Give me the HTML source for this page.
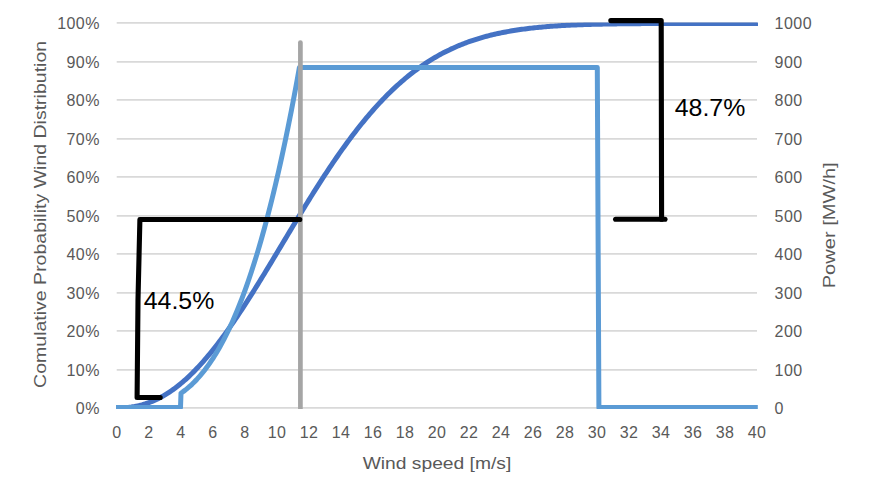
<!DOCTYPE html>
<html><head><meta charset="utf-8">
<style>
html,body{margin:0;padding:0;background:#fff;}
body{width:870px;height:501px;overflow:hidden;font-family:"Liberation Sans",sans-serif;}
svg{display:block;}
svg text{font-family:"Liberation Sans",sans-serif;}
</style></head><body>
<svg width="870" height="501" viewBox="0 0 870 501">
<defs><clipPath id="plot"><rect x="110" y="22.4" width="660" height="386.5"/></clipPath></defs>
<rect width="870" height="501" fill="#ffffff"/>
<g stroke="#d9d9d9" stroke-width="1.6" fill="none"><line x1="116.7" y1="407.90" x2="757.0" y2="407.90"/><line x1="116.7" y1="369.90" x2="757.0" y2="369.90"/><line x1="116.7" y1="330.90" x2="757.0" y2="330.90"/><line x1="116.7" y1="292.90" x2="757.0" y2="292.90"/><line x1="116.7" y1="253.90" x2="757.0" y2="253.90"/><line x1="116.7" y1="215.90" x2="757.0" y2="215.90"/><line x1="116.7" y1="176.90" x2="757.0" y2="176.90"/><line x1="116.7" y1="138.90" x2="757.0" y2="138.90"/><line x1="116.7" y1="99.90" x2="757.0" y2="99.90"/><line x1="116.7" y1="61.90" x2="757.0" y2="61.90"/><line x1="116.7" y1="22.90" x2="757.0" y2="22.90"/></g>
<g clip-path="url(#plot)"><polyline points="117.00,407.90 118.60,407.89 120.20,407.87 121.80,407.83 123.40,407.76 125.00,407.67 126.60,407.55 128.20,407.40 129.80,407.22 131.40,407.02 133.00,406.78 134.60,406.52 136.20,406.22 137.80,405.89 139.40,405.53 141.00,405.13 142.60,404.70 144.20,404.23 145.80,403.73 147.40,403.19 149.00,402.62 150.60,402.01 152.20,401.37 153.80,400.69 155.40,399.97 157.00,399.22 158.60,398.43 160.20,397.60 161.80,396.73 163.40,395.83 165.00,394.89 166.60,393.91 168.20,392.90 169.80,391.85 171.40,390.75 173.00,389.63 174.60,388.46 176.20,387.26 177.80,386.02 179.40,384.74 181.00,383.43 182.60,382.08 184.20,380.69 185.80,379.27 187.40,377.81 189.00,376.32 190.60,374.79 192.20,373.22 193.80,371.62 195.40,369.99 197.00,368.32 198.60,366.62 200.20,364.88 201.80,363.11 203.40,361.31 205.00,359.47 206.60,357.61 208.20,355.71 209.80,353.78 211.40,351.82 213.00,349.83 214.60,347.81 216.20,345.76 217.80,343.69 219.40,341.58 221.00,339.45 222.60,337.29 224.20,335.11 225.80,332.90 227.40,330.67 229.00,328.41 230.60,326.12 232.20,323.82 233.80,321.49 235.40,319.14 237.00,316.77 238.60,314.38 240.20,311.97 241.80,309.54 243.40,307.09 245.00,304.63 246.60,302.15 248.20,299.65 249.80,297.13 251.40,294.60 253.00,292.06 254.60,289.51 256.20,286.94 257.80,284.36 259.40,281.77 261.00,279.16 262.60,276.55 264.20,273.93 265.80,271.30 267.40,268.67 269.00,266.02 270.60,263.38 272.20,260.72 273.80,258.06 275.40,255.40 277.00,252.74 278.60,250.07 280.20,247.40 281.80,244.73 283.40,242.06 285.00,239.39 286.60,236.72 288.20,234.05 289.80,231.39 291.40,228.73 293.00,226.07 294.60,223.42 296.20,220.77 297.80,218.13 299.40,215.50 301.00,212.87 302.60,210.25 304.20,207.64 305.80,205.04 307.40,202.45 309.00,199.86 310.60,197.29 312.20,194.73 313.80,192.18 315.40,189.65 317.00,187.13 318.60,184.62 320.20,182.12 321.80,179.64 323.40,177.17 325.00,174.72 326.60,172.29 328.20,169.87 329.80,167.47 331.40,165.09 333.00,162.72 334.60,160.37 336.20,158.04 337.80,155.73 339.40,153.44 341.00,151.17 342.60,148.92 344.20,146.68 345.80,144.47 347.40,142.28 349.00,140.11 350.60,137.96 352.20,135.84 353.80,133.73 355.40,131.65 357.00,129.59 358.60,127.55 360.20,125.53 361.80,123.54 363.40,121.57 365.00,119.62 366.60,117.70 368.20,115.80 369.80,113.93 371.40,112.07 373.00,110.24 374.60,108.44 376.20,106.66 377.80,104.90 379.40,103.17 381.00,101.46 382.60,99.77 384.20,98.11 385.80,96.47 387.40,94.86 389.00,93.27 390.60,91.71 392.20,90.17 393.80,88.65 395.40,87.16 397.00,85.69 398.60,84.24 400.20,82.82 401.80,81.42 403.40,80.04 405.00,78.69 406.60,77.36 408.20,76.06 409.80,74.78 411.40,73.52 413.00,72.28 414.60,71.06 416.20,69.87 417.80,68.70 419.40,67.55 421.00,66.42 422.60,65.32 424.20,64.24 425.80,63.17 427.40,62.13 429.00,61.11 430.60,60.11 432.20,59.13 433.80,58.17 435.40,57.23 437.00,56.31 438.60,55.41 440.20,54.53 441.80,53.67 443.40,52.82 445.00,52.00 446.60,51.19 448.20,50.40 449.80,49.63 451.40,48.88 453.00,48.15 454.60,47.43 456.20,46.72 457.80,46.04 459.40,45.37 461.00,44.72 462.60,44.08 464.20,43.46 465.80,42.85 467.40,42.26 469.00,41.68 470.60,41.12 472.20,40.57 473.80,40.04 475.40,39.52 477.00,39.01 478.60,38.52 480.20,38.04 481.80,37.57 483.40,37.11 485.00,36.67 486.60,36.24 488.20,35.82 489.80,35.41 491.40,35.02 493.00,34.63 494.60,34.26 496.20,33.89 497.80,33.54 499.40,33.19 501.00,32.86 502.60,32.54 504.20,32.22 505.80,31.92 507.40,31.62 509.00,31.34 510.60,31.06 512.20,30.79 513.80,30.52 515.40,30.27 517.00,30.03 518.60,29.79 520.20,29.56 521.80,29.33 523.40,29.12 525.00,28.91 526.60,28.70 528.20,28.51 529.80,28.32 531.40,28.13 533.00,27.95 534.60,27.78 536.20,27.62 537.80,27.46 539.40,27.30 541.00,27.15 542.60,27.01 544.20,26.87 545.80,26.73 547.40,26.60 549.00,26.47 550.60,26.35 552.20,26.24 553.80,26.12 555.40,26.01 557.00,25.91 558.60,25.81 560.20,25.71 561.80,25.62 563.40,25.52 565.00,25.44 566.60,25.35 568.20,25.27 569.80,25.19 571.40,25.12 573.00,25.05 574.60,24.98 576.20,24.91 577.80,24.85 579.40,24.78 581.00,24.72 582.60,24.67 584.20,24.61 585.80,24.56 587.40,24.51 589.00,24.46 590.60,24.41 592.20,24.37 593.80,24.33 595.40,24.28 597.00,24.25 598.60,24.21 600.20,24.17 601.80,24.14 603.40,24.10 605.00,24.07 606.60,24.04 608.20,24.01 609.80,23.98 611.40,23.95 613.00,23.93 614.60,23.90 616.20,23.88 617.80,23.86 619.40,23.84 621.00,23.82 622.60,23.80 624.20,23.78 625.80,23.76 627.40,23.74 629.00,23.73 630.60,23.71 632.20,23.69 633.80,23.68 635.40,23.67 637.00,23.65 638.60,23.64 640.20,23.63 641.80,23.62 643.40,23.61 645.00,23.60 646.60,23.59 648.20,23.58 649.80,23.57 651.40,23.56 653.00,23.55 654.60,23.54 656.20,23.54 657.80,23.53 659.40,23.52 661.00,23.52 662.60,23.51 664.20,23.50 665.80,23.50 667.40,23.49 669.00,23.49 670.60,23.48 672.20,23.48 673.80,23.48 675.40,23.47 677.00,23.47 678.60,23.46 680.20,23.46 681.80,23.46 683.40,23.45 685.00,23.45 686.60,23.45 688.20,23.45 689.80,23.44 691.40,23.44 693.00,23.44 694.60,23.44 696.20,23.43 697.80,23.43 699.40,23.43 701.00,23.43 702.60,23.43 704.20,23.43 705.80,23.42 707.40,23.42 709.00,23.42 710.60,23.42 712.20,23.42 713.80,23.42 715.40,23.42 717.00,23.42 718.60,23.42 720.20,23.41 721.80,23.41 723.40,23.41 725.00,23.41 726.60,23.41 728.20,23.41 729.80,23.41 731.40,23.41 733.00,23.41 734.60,23.41 736.20,23.41 737.80,23.41 739.40,23.41 741.00,23.41 742.60,23.41 744.20,23.41 745.80,23.41 747.40,23.41 749.00,23.40 750.60,23.40 752.20,23.40 753.80,23.40 755.40,23.40 757.00,23.40 758.00,23.40" fill="none" stroke="#4472c4" stroke-width="5" stroke-linejoin="round" stroke-linecap="butt"/></g>
<g clip-path="url(#plot)"><polyline points="116.00,407.40 180.50,407.40 181.00,393.20 182.60,392.07 184.20,390.88 185.80,389.64 187.40,388.33 189.00,386.97 190.60,385.54 192.20,384.05 193.80,382.49 195.40,380.87 197.00,379.19 198.60,377.43 200.20,375.60 201.80,373.70 203.40,371.73 205.00,369.68 206.60,367.56 208.20,365.36 209.80,363.08 211.40,360.72 213.00,358.28 214.60,355.76 216.20,353.15 217.80,350.46 219.40,347.68 221.00,344.81 222.60,341.86 224.20,338.81 225.80,335.67 227.40,332.43 229.00,329.11 230.60,325.68 232.20,322.16 233.80,318.54 235.40,314.81 237.00,310.99 238.60,307.06 240.20,303.03 241.80,298.89 243.40,294.64 245.00,290.28 246.60,285.82 248.20,281.24 249.80,276.55 251.40,271.74 253.00,266.82 254.60,261.79 256.20,256.63 257.80,251.35 259.40,245.95 261.00,240.43 262.60,234.79 264.20,229.02 265.80,223.12 267.40,217.10 269.00,210.94 270.60,204.66 272.20,198.24 273.80,191.69 275.40,185.00 277.00,178.18 278.60,171.22 280.20,164.12 281.80,156.88 283.40,149.50 285.00,141.97 286.60,134.30 288.20,126.48 289.80,118.52 291.40,110.41 293.00,102.14 294.60,93.73 296.20,85.16 297.80,76.44 299.40,67.56 299.40,67.56 597.30,67.56 598.90,407.40 757.80,407.40" fill="none" stroke="#5b9bd5" stroke-width="5" stroke-linejoin="round" stroke-linecap="butt"/></g>
<g clip-path="url(#plot)"><line x1="300.4" y1="42.5" x2="300.4" y2="409" stroke="#a5a5a5" stroke-width="4.7" stroke-linecap="round"/></g>
<g fill="none" stroke="#000" stroke-width="5.1" stroke-linecap="round" stroke-linejoin="miter">
<polyline points="299.8,219.5 139.9,219.5 138.0,300 137.1,397.5 160.2,397.5" stroke-linejoin="round"/>
<polyline points="610.8,20.6 661.2,20.6 661.6,219.3" stroke-linejoin="round"/>
<polyline points="615.6,219.3 665,219.3"/>
</g>
<g font-size="16" fill="#595959" letter-spacing="0.45"><text x="99.9" y="413.9" text-anchor="end">0%</text><text x="99.9" y="375.9" text-anchor="end">10%</text><text x="99.9" y="336.9" text-anchor="end">20%</text><text x="99.9" y="298.9" text-anchor="end">30%</text><text x="99.9" y="259.9" text-anchor="end">40%</text><text x="99.9" y="221.9" text-anchor="end">50%</text><text x="99.9" y="182.9" text-anchor="end">60%</text><text x="99.9" y="144.9" text-anchor="end">70%</text><text x="99.9" y="105.9" text-anchor="end">80%</text><text x="99.9" y="67.9" text-anchor="end">90%</text><text x="99.9" y="28.9" text-anchor="end">100%</text><text x="774.6" y="413.9">0</text><text x="774.6" y="375.9">100</text><text x="774.6" y="336.9">200</text><text x="774.6" y="298.9">300</text><text x="774.6" y="259.9">400</text><text x="774.6" y="221.9">500</text><text x="774.6" y="182.9">600</text><text x="774.6" y="144.9">700</text><text x="774.6" y="105.9">800</text><text x="774.6" y="67.9">900</text><text x="774.6" y="28.9">1000</text><text x="117.0" y="437.7" text-anchor="middle">0</text><text x="149.0" y="437.7" text-anchor="middle">2</text><text x="181.0" y="437.7" text-anchor="middle">4</text><text x="213.0" y="437.7" text-anchor="middle">6</text><text x="245.0" y="437.7" text-anchor="middle">8</text><text x="277.0" y="437.7" text-anchor="middle">10</text><text x="309.0" y="437.7" text-anchor="middle">12</text><text x="341.0" y="437.7" text-anchor="middle">14</text><text x="373.0" y="437.7" text-anchor="middle">16</text><text x="405.0" y="437.7" text-anchor="middle">18</text><text x="437.0" y="437.7" text-anchor="middle">20</text><text x="469.0" y="437.7" text-anchor="middle">22</text><text x="501.0" y="437.7" text-anchor="middle">24</text><text x="533.0" y="437.7" text-anchor="middle">26</text><text x="565.0" y="437.7" text-anchor="middle">28</text><text x="597.0" y="437.7" text-anchor="middle">30</text><text x="629.0" y="437.7" text-anchor="middle">32</text><text x="661.0" y="437.7" text-anchor="middle">34</text><text x="693.0" y="437.7" text-anchor="middle">36</text><text x="725.0" y="437.7" text-anchor="middle">38</text><text x="757.0" y="437.7" text-anchor="middle">40</text></g>
<g font-size="17" fill="#595959">
<text x="437" y="468.6" text-anchor="middle" textLength="148.6" lengthAdjust="spacingAndGlyphs">Wind speed [m/s]</text>
<text transform="translate(45.9,214.4) rotate(-90)" text-anchor="middle" textLength="347" lengthAdjust="spacingAndGlyphs">Comulative Probability Wind Distribution</text>
<text transform="translate(835.1,225.3) rotate(-90)" text-anchor="middle" textLength="126" lengthAdjust="spacingAndGlyphs">Power [MW/h]</text>
</g>
<g font-size="24" fill="#000">
<text x="143.8" y="308.7" textLength="70.5" lengthAdjust="spacingAndGlyphs">44.5%</text>
<text x="674.8" y="115.7" textLength="70.5" lengthAdjust="spacingAndGlyphs">48.7%</text>
</g>
</svg>
</body></html>
